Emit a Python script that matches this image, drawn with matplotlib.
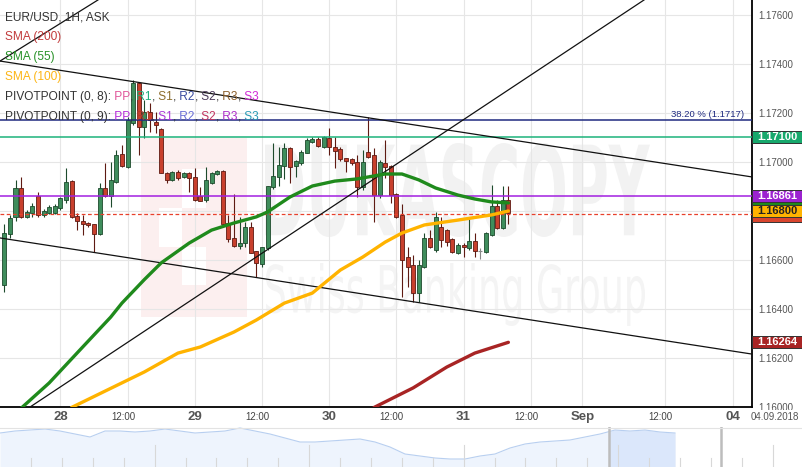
import numpy as np
import matplotlib
matplotlib.use("Agg")
import matplotlib.pyplot as plt
from matplotlib.patches import Rectangle, PathPatch
from matplotlib.textpath import TextPath
from matplotlib.font_manager import FontProperties
from matplotlib.transforms import Affine2D, ScaledTranslation, blended_transform_factory

W, H = 803, 467
plt.rcParams['font.family'] = ['Liberation Sans', 'DejaVu Sans']

# EUR/USD hourly candles (ask)
opens = [1.16498, 1.16706, 1.16776, 1.16894, 1.16776, 1.16792, 1.16861, 1.16784, 1.16792, 1.16792,
         1.16812, 1.16845, 1.16922, 1.16780, 1.16759, 1.16751, 1.16747, 1.16706, 1.16894, 1.16861,
         1.16918, 1.17033, 1.16980, 1.17159, 1.17322, 1.17143, 1.17204, 1.17163, 1.17135, 1.16955,
         1.16927, 1.16959, 1.16939, 1.16955, 1.16939, 1.16861, 1.16845, 1.16914, 1.16951, 1.16963,
         1.16751, 1.16690, 1.16657, 1.16669, 1.16735, 1.16637, 1.16584, 1.16649, 1.16898, 1.16939,
         1.16984, 1.17057, 1.16984, 1.16996, 1.17037, 1.17082, 1.17094, 1.17061, 1.17098, 1.17061,
         1.17053, 1.17016, 1.17012, 1.17000, 1.16898, 1.17041, 1.17029, 1.16865, 1.16996, 1.16984,
         1.16869, 1.16784, 1.16612, 1.16580, 1.16465, 1.16571, 1.16690, 1.16641, 1.16735, 1.16722,
         1.16686, 1.16628, 1.16661, 1.16649, 1.16678, 1.16637, 1.16633, 1.16702, 1.16820, 1.16731,
         1.16845]
highs = [1.16747, 1.16784, 1.16927, 1.16939, 1.16804, 1.16833, 1.16878, 1.16808, 1.16824, 1.16829,
         1.16857, 1.16976, 1.16927, 1.16792, 1.16784, 1.16755, 1.16747, 1.16914, 1.16996, 1.17000,
         1.17049, 1.17069, 1.17184, 1.17335, 1.17327, 1.17253, 1.17241, 1.17204, 1.17139, 1.16959,
         1.16963, 1.16967, 1.16959, 1.16959, 1.16976, 1.16898, 1.16980, 1.16959, 1.16967, 1.16967,
         1.16784, 1.16869, 1.16776, 1.16755, 1.16755, 1.16637, 1.16653, 1.16902, 1.17077, 1.17061,
         1.17077, 1.17061, 1.17008, 1.17049, 1.17098, 1.17102, 1.17102, 1.17106, 1.17139, 1.17102,
         1.17061, 1.17016, 1.17016, 1.17029, 1.17049, 1.17184, 1.17057, 1.17008, 1.17090, 1.16988,
         1.16873, 1.16829, 1.16653, 1.16620, 1.16600, 1.16710, 1.16722, 1.16796, 1.16776, 1.16726,
         1.16690, 1.16669, 1.16669, 1.16771, 1.16710, 1.16649, 1.16714, 1.16906, 1.16845, 1.16902,
         1.16902]
lows = [1.16469, 1.16690, 1.16759, 1.16771, 1.16771, 1.16776, 1.16776, 1.16776, 1.16788, 1.16788,
        1.16804, 1.16833, 1.16771, 1.16722, 1.16702, 1.16735, 1.16633, 1.16702, 1.16857, 1.16816,
        1.16914, 1.16980, 1.16976, 1.17151, 1.17029, 1.17098, 1.17122, 1.17118, 1.16955, 1.16914,
        1.16922, 1.16927, 1.16935, 1.16878, 1.16841, 1.16841, 1.16837, 1.16910, 1.16947, 1.16735,
        1.16673, 1.16653, 1.16645, 1.16653, 1.16628, 1.16531, 1.16571, 1.16641, 1.16890, 1.16902,
        1.16931, 1.16914, 1.16939, 1.16988, 1.17037, 1.17077, 1.17061, 1.17057, 1.17029, 1.16976,
        1.17004, 1.16959, 1.16988, 1.16857, 1.16886, 1.17016, 1.16755, 1.16853, 1.16935, 1.16833,
        1.16771, 1.16449, 1.16490, 1.16429, 1.16429, 1.16567, 1.16649, 1.16633, 1.16653, 1.16657,
        1.16628, 1.16624, 1.16612, 1.16641, 1.16612, 1.16604, 1.16628, 1.16698, 1.16726, 1.16726,
        1.16747]
closes = [1.16710, 1.16771, 1.16894, 1.16776, 1.16796, 1.16820, 1.16784, 1.16800, 1.16816, 1.16820,
          1.16853, 1.16918, 1.16776, 1.16759, 1.16747, 1.16743, 1.16706, 1.16894, 1.16861, 1.16927,
          1.17029, 1.16984, 1.17171, 1.17322, 1.17143, 1.17204, 1.17171, 1.17151, 1.16955, 1.16927,
          1.16959, 1.16935, 1.16955, 1.16935, 1.16845, 1.16841, 1.16927, 1.16955, 1.16963, 1.16747,
          1.16686, 1.16657, 1.16669, 1.16735, 1.16628, 1.16588, 1.16653, 1.16902, 1.16943, 1.16988,
          1.17057, 1.16980, 1.17004, 1.17041, 1.17090, 1.17094, 1.17065, 1.17102, 1.17061, 1.17045,
          1.17012, 1.17004, 1.16996, 1.16898, 1.17000, 1.17020, 1.16865, 1.17000, 1.16980, 1.16865,
          1.16776, 1.16600, 1.16571, 1.16465, 1.16580, 1.16690, 1.16653, 1.16776, 1.16682, 1.16673,
          1.16633, 1.16661, 1.16653, 1.16678, 1.16637, 1.16637, 1.16710, 1.16820, 1.16731, 1.16845,
          1.16792]

# moving averages (bar index, value)
sma55_x = [3, 8, 14, 19, 21, 25, 28, 33, 37, 41, 45, 47, 51, 55, 59, 63, 68, 71, 74, 77, 81, 84, 87, 90]
sma55 = [1.15995, 1.16098, 1.16245, 1.16367, 1.16424, 1.16520, 1.16588, 1.16669, 1.16722, 1.16751,
         1.16776, 1.16796, 1.16857, 1.16902, 1.16922, 1.16931, 1.16951, 1.16951, 1.16927, 1.16894,
         1.16865, 1.16849, 1.16837, 1.16833]
sma100_x = [12, 18, 25, 31, 35, 41, 45, 50, 55, 60, 64, 68, 71, 75, 81, 87, 90]
sma100 = [1.15998, 1.16065, 1.16143, 1.16220, 1.16245, 1.16306, 1.16355, 1.16424, 1.16465, 1.16559,
          1.16612, 1.16673, 1.16710, 1.16743, 1.16763, 1.16784, 1.16800]
sma200_x = [66, 73, 79, 84, 90]
sma200 = [1.15998, 1.16078, 1.16163, 1.16220, 1.16264]

# trend lines, two points each
trend_lines = [((-0.77, 1.17412), (133.5, 1.16939)),
               ((-0.77, 1.16690), (133.5, 1.16216)),
               ((4.6, 1.16000), (114.2, 1.17661)),
               ((-0.77, 1.17412), (16.7, 1.17661))]

fib_level = 1.1717
r1_level = 1.17100
pivot_level = 1.16861
ask_level = 1.16788

price_ticks = [1.160, 1.162, 1.164, 1.166, 1.168, 1.170, 1.172, 1.174, 1.176]
time_ticks = [10, 22, 34, 46, 58, 70, 82, 94, 103.2, 118, 130.1]
time_labels = ['28', '12:00', '29', '12:00', '30', '12:00', '31', '12:00', 'Sep', '12:00', '04']

# navigator overview series
nav = [1.1730, 1.1738, 1.1742, 1.1746, 1.1738, 1.1726, 1.1714, 1.1738, 1.1738, 1.1734,
       1.1738, 1.1746, 1.1738, 1.1730, 1.1734, 1.1738, 1.1750, 1.1738, 1.1726, 1.1710,
       1.1694, 1.1694, 1.1698, 1.1702, 1.1706, 1.1694, 1.1674, 1.1646, 1.1638, 1.1630,
       1.1626, 1.1626, 1.1638, 1.1646, 1.1670, 1.1686, 1.1694, 1.1698, 1.1702, 1.1714,
       1.1726, 1.1742, 1.1738, 1.1742, 1.1734, 1.1730]

fig = plt.figure(figsize=(W / 100, H / 100), dpi=100)
ax = fig.add_axes([0, 60 / H, 752 / W, 407 / H])
ax.set_xlim(-0.77, 133.5)
ax.set_ylim(1.16, 1.176612)

# watermark
def stamp(text, box, color, weight):
    x0, y0, x1, y1 = box
    tp = TextPath((0, 0), text, size=100, prop=FontProperties(family='DejaVu Sans', weight=weight))
    ext = tp.get_extents()
    tr = (Affine2D().translate(-ext.x0, -ext.y0)
          .scale((x1 - x0) / ext.width / W, (y1 - y0) / ext.height / H)
          .translate(x0 / W, 1 - y1 / H) + fig.transFigure)
    ax.add_patch(PathPatch(tp, transform=tr, fc=color, ec='none', zorder=0.2))

def px_rect(x0, y0, x1, y1, color):
    ax.add_patch(Rectangle((x0 / W, 1 - y1 / H), (x1 - x0) / W, (y1 - y0) / H,
                           transform=fig.transFigure, fc=color, ec='none', zorder=0.2))

px_rect(141, 138, 247, 317, '#fcefef')
px_rect(182, 169, 206, 208, 'white')
px_rect(159, 208, 182, 247, 'white')
px_rect(182, 247, 206, 285, 'white')
stamp('DUKASCOPY', (265, 143, 650, 237), '#f2f2f2', 'bold')
stamp('Swiss Banking Group', (266, 263, 645, 326), '#f4f4f4', 'normal')

ax.set_xticks(time_ticks)
ax.set_xticklabels([])
ax.set_yticks(price_ticks)
# the 1.16800 scale label sits under the SMA(100) value box
ax.set_yticklabels(['' if abs(p - sma100[-1]) < 1e-6 else '%.5f' % p for p in price_ticks])
ax.yaxis.tick_right()
ax.tick_params(axis='y', length=0, pad=4.5, labelsize=7, labelcolor='#555555')
ax.tick_params(axis='x', length=0)
ax.grid(color='#e6e6e6', lw=0.8, zorder=0.5)
ax.set_axisbelow(True)
for s in ['top', 'left']:
    ax.spines[s].set_visible(False)
for s in ['right', 'bottom']:
    ax.spines[s].set_color('black')
    ax.spines[s].set_linewidth(1.3)

# x labels
lab_tr = blended_transform_factory(ax.transData, ax.transAxes) + ScaledTranslation(0, -0.10, fig.dpi_scale_trans)
for t, lab in zip(time_ticks, time_labels):
    if lab == '12:00':
        ax.text(t, 0, lab, transform=lab_tr + ScaledTranslation(-0.045, 0, fig.dpi_scale_trans),
                ha='center', va='center', fontsize=7, color='#444444', clip_on=False)
    else:
        ax.text(t, 0, lab, transform=lab_tr, ha='center', va='center', fontsize=9.5,
                fontweight='bold', color='#555555', clip_on=False)

# candles
up_fc, up_ec = '#3f8d5c', '#1d4a2c'
dn_fc, dn_ec = '#c8402d', '#5e1a12'
for i, (o, h, l, c) in enumerate(zip(opens, highs, lows, closes)):
    if c == o:
        ax.vlines(i, l, h, color='#888888', lw=0.8, zorder=3)
        ax.hlines(c, i - 0.35, i + 0.35, color='#888888', lw=0.8, zorder=3)
        continue
    fc, ec = (up_fc, up_ec) if c > o else (dn_fc, dn_ec)
    ax.vlines(i, l, h, color=ec, lw=0.8, zorder=3)
    ax.add_patch(Rectangle((i - 0.36, min(o, c)), 0.72, max(abs(c - o), 0.00003),
                           fc=fc, ec=ec, lw=0.6, zorder=3.2))

# levels
ax.axhline(fib_level, color='#1f2a80', lw=1.1, zorder=4)
ax.axhline(r1_level, color='#1db37a', lw=1.1, zorder=4)
ax.axhline(pivot_level, color='#a21fe0', lw=1.1, zorder=4)
ax.axhline(ask_level, color='#e8412c', lw=0.9, ls=(0, (3, 2)), zorder=4)
ax.text(0.99, fib_level + 0.00004, f'38.20 % ({fib_level:.4f})',
        transform=blended_transform_factory(ax.transAxes, ax.transData),
        ha='right', va='bottom', fontsize=6.8, color='#1f2a80', zorder=5)

for p1, p2 in trend_lines:
    ax.axline(p1, p2, color='#111111', lw=0.9, zorder=4)

ax.plot(sma100_x, sma100, color='#ffb300', lw=2.4, solid_capstyle='round', zorder=4.5)
ax.plot(sma55_x, sma55, color='#1f8a1c', lw=2.4, solid_capstyle='round', zorder=4.6)
ax.plot(sma200_x, sma200, color='#a82424', lw=2.4, solid_capstyle='round', zorder=4.5)

# price boxes on the right scale (the lower ones are mostly hidden, as in the source)
bt = blended_transform_factory(ax.transAxes, ax.transData)
def price_box(y, val, fc, tc, z, show_text=True):
    half = 0.000245
    ax.add_patch(Rectangle((1.0, y - half), 51 / 752, 2 * half, transform=bt, fc=fc, ec='#333333',
                           lw=0.7, clip_on=False, zorder=z))
    if show_text:
        ax.text(1.0 + 25.5 / 752, y, '%.5f' % val, transform=bt, ha='center', va='center', fontsize=8,
                fontweight='bold', color=tc, clip_on=False, zorder=z + 0.1)

price_box(1.16778, ask_level, '#d9452e', 'white', 30, show_text=False)
price_box(sma55[-1], sma55[-1], '#1f8a1c', 'white', 31, show_text=False)
price_box(sma100[-1], sma100[-1], '#ffb300', '#222222', 32)
price_box(pivot_level, pivot_level, '#9c22d0', 'white', 33)
price_box(r1_level, r1_level, '#17a86c', 'white', 34)
price_box(sma200[-1], sma200[-1], '#a82424', 'white', 35)

# legend rows
fig.canvas.draw()
rend = fig.canvas.get_renderer()
def row(y_px, pieces):
    x = 5
    for s, c in pieces:
        t = fig.text(x / W, 1 - y_px / H, s, color=c, fontsize=8.6, va='baseline', ha='left', zorder=20)
        x += t.get_window_extent(rend).width

names = ['PP', 'R1', 'S1', 'R2', 'S2', 'R3', 'S3']
pv8 = ['#e0559a', '#1fae7a', '#8c6d2c', '#3a4ba0', '#4b3b5a', '#8b5e2b', '#d12ad6']
pv9 = ['#b52bd9', '#b03a2e', '#a935d6', '#6a6fd6', '#c0355f', '#ad2fc9', '#2a9bb5']
def pivot_pieces(head, cols):
    out = [(head, '#333333')]
    for k, (n, c) in enumerate(zip(names, cols)):
        out.append((' ' + n, c))
        if k < len(names) - 1:
            out.append((',', '#333333'))
    return out

row(20, [('EUR/USD, 1H, ASK', '#333333')])
row(40, [('SMA (200)', '#c23b3b')])
row(60, [('SMA (55)', '#279127')])
row(80, [('SMA (100)', '#fdb515')])
row(100, pivot_pieces('PIVOTPOINT (0, 8):', pv8))
row(120, pivot_pieces('PIVOTPOINT (0, 9):', pv9))

# mask lower half of bottom price label, date stamp
fig.patches.append(Rectangle((752 / W, 42 / H), 51 / W, 15 / H, transform=fig.transFigure,
                             fc='white', ec='none', zorder=5))
fig.text(775 / W, 1 - 417 / H, '04.09.2018', ha='center', va='center', fontsize=7, color='#555555', zorder=6)

# navigator
navax = fig.add_axes([0, 0, 1, 40 / H])
navax.set_xlim(0, W / 15)
navax.set_ylim(1.1594, 1.1754)
navax.axis('off')
nx = np.arange(len(nav))
navax.fill_between(nx, nav, 1.1594, color='#eef4fd', lw=0)
navax.plot(nx, nav, color='#b8cff0', lw=0.8)
sel = navax.fill_between(nx, nav, 1.1594, color='#dbe7fb', lw=0)
sel.set_clip_path(Rectangle((40.6, 1.1594), 4.4, 0.02, transform=navax.transData))
nb = blended_transform_factory(navax.transData, navax.transAxes)
for k, xp in enumerate(np.arange(31, W, 30.9)):
    tall = (k + 1) % 5 == 0
    navax.plot([xp / 15, xp / 15], [0, 0.55 if tall else 0.22], transform=nb, color='#d8d8d8', lw=0.8)
navax.plot([40.6, 40.6], [0, 1], transform=nb, color='#bdbdbd', lw=1.8)
navax.plot([48.07, 48.07], [0, 1], transform=nb, color='#bdbdbd', lw=1.8)
navax.plot([0, W / 15], [0.97, 0.97], transform=nb, color='#e3e3e3', lw=0.8)

fig.savefig('out.png', dpi=100)
